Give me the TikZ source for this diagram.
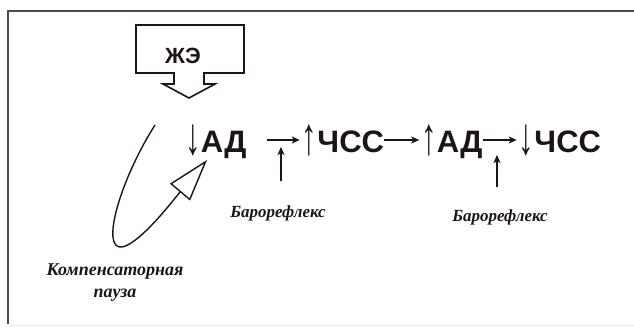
\documentclass[tikz,border=0pt]{standalone}
\usepackage{fontspec}
\setmainfont{Liberation Sans}
\newfontfamily\arw{Liberation Sans}
\newfontfamily\serifit{Liberation Serif}
\usetikzlibrary{arrows.meta}
\definecolor{ink}{HTML}{1E1414}
\newcommand{\tallarr}[1]{\raisebox{-2pt}{\scalebox{1}[1.7]{\arw\mdseries #1}}}
\begin{document}
\begin{tikzpicture}[x=1pt,y=-1pt,
  chain/.style={font=\bfseries\fontsize{31}{31}\selectfont, text=ink, inner sep=0pt, anchor=base},
  lbl/.style={font=\serifit\bfseries\itshape\fontsize{17}{22}\selectfont, text=ink, inner sep=0pt},
  conn/.style={draw=ink, line width=1.3pt, -{Stealth[length=8pt,width=7pt,inset=2pt]}},
  callout/.style={draw=ink, line width=1.6pt, line join=miter},
  loopline/.style={draw=ink, line width=1.4pt, -{Triangle[open, length=42pt, width=26pt, line width=1.4pt]}},
  frameline/.style={draw=gray!60!black, line width=1.2pt}]
\useasboundingbox (0,0) rectangle (634,327);
% frame
\draw[frameline] (8,324) -- (8,11) -- (634,11);
\draw[draw=gray!15, line width=1pt] (8,325) -- (634,325);
% callout
\draw[callout] (136,25) -- (244,25) -- (244,73) -- (204,73) -- (204,84) -- (215,84) -- (189,98) -- (163,84) -- (174,84) -- (174,73) -- (136,73) -- cycle;
\node[anchor=base, inner sep=0pt, text=ink, font=\bfseries\fontsize{22}{22}\selectfont] (zhe) at (183,63) {ЖЭ};
% chain
\node[chain] (ad1) at (216,152) {\tallarr{↓}АД};
\node[chain] (chss1) at (343,152) {\tallarr{↑}ЧСС};
\node[chain] (ad2) at (452,152) {\tallarr{↑}АД};
\node[chain] (chss2) at (560,152) {\tallarr{↓}ЧСС};
\draw[conn] ([shift={(20,-12)}]ad1.base east) -- ([shift={(-2,-12)}]chss1.base west);
\draw[conn] ([shift={(0,-12)}]chss1.base east) -- ([shift={(-2,-12)}]ad2.base west);
\draw[conn] ([shift={(0,-12)}]ad2.base east) -- ([shift={(-2,-12)}]chss2.base west);
% baroreflex
\node[lbl] (baro1) at (278,213) {Барорефлекс};
\node[lbl] (baro2) at (500,217) {Барорефлекс};
\coordinate (b1s) at (281,181);
\coordinate (b1e) at (281,147);
\coordinate (b2s) at (497,187);
\coordinate (b2e) at (497,155);
\draw[conn] (b1s) -- (b1e);
\draw[conn] (b2s) -- (b2e);
% compensatory pause
\coordinate (lp0) at (155,125);
\coordinate (lptip) at (207,160);
\draw[loopline] (lp0) .. controls (120,180) and (100,250) .. (122,247) .. controls (140,244) and (175,198) .. (lptip);
\node[lbl, align=center, font=\serifit\bfseries\itshape\fontsize{18}{22}\selectfont] (komp) at (115,283) {Компенсаторная\\пауза};
\end{tikzpicture}
\end{document}
